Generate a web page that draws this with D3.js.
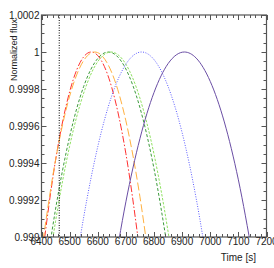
<!DOCTYPE html>
<html>
<head>
<meta charset="utf-8">
<script src="https://cdn.jsdelivr.net/npm/d3@7"></script>
<style>
  html, body { margin: 0; padding: 0; background: #fff; }
  svg text { font-family: "Liberation Sans", Arial, sans-serif; fill: #222; }
</style>
</head>
<body>
<svg id="chart" width="274" height="268"></svg>
<script>
// light curves: [time s, normalized flux]
const redCurve = [[6400, 0.998863], [6450, 0.999415], [6500, 0.999785], [6550, 0.999974], [6577, 1.0],
  [6600, 0.999981], [6650, 0.999807], [6700, 0.999451], [6750, 0.998914]];
const orangeCurve = [[6400, 0.998922], [6450, 0.999417], [6500, 0.999761], [6550, 0.999954], [6589, 1.0],
  [6650, 0.999888], [6700, 0.999628], [6750, 0.999217], [6800, 0.998656]];
const darkGreenCurve = [[6400, 0.998639], [6450, 0.999151], [6500, 0.999542], [6550, 0.999814], [6600, 0.999965],
  [6638, 1.0], [6700, 0.999908], [6750, 0.999699], [6800, 0.999369], [6850, 0.99892]];
const lightGreenCurve = [[6400, 0.998562], [6450, 0.999085], [6500, 0.999491], [6550, 0.999778], [6600, 0.999948],
  [6647, 1.0], [6700, 0.999934], [6750, 0.99975], [6800, 0.999448], [6850, 0.999029], [6900, 0.998492]];
const blueCurve = [[6500, 0.998621], [6550, 0.999107], [6600, 0.999488], [6650, 0.999764], [6700, 0.999934],
  [6756, 1.0], [6800, 0.999959], [6850, 0.999814], [6900, 0.999564], [6950, 0.999208], [7000, 0.998747]];
const purpleCurve = [[6650, 0.998753], [6700, 0.99919], [6750, 0.999532], [6800, 0.999781], [6850, 0.999937],
  [6908, 1.0], [6950, 0.999967], [7000, 0.999841], [7050, 0.999622], [7100, 0.999309], [7150, 0.998902]];
const markerTime = 6463;

const xTicks = [6400, 6500, 6600, 6700, 6800, 6900, 7000, 7100, 7200];
const yTicks = [0.999, 0.9992, 0.9994, 0.9996, 0.9998, 1.0, 1.0002];
const yTickLabels = ['0.999', '0.9992', '0.9994', '0.9996', '0.9998', '1', '1.0002'];

const series = [
  { data: redCurve, color: '#ff3030', dash: '7,2,1.5,2' },
  { data: orangeCurve, color: '#ffb040', dash: '8,3' },
  { data: darkGreenCurve, color: '#3c9a3c', dash: '3,2' },
  { data: lightGreenCurve, color: '#8ee060', dash: '2.5,1.5' },
  { data: blueCurve, color: '#5c5cff', dash: '1,1.5' },
  { data: purpleCurve, color: '#6a4ea4', dash: null }
];

const svg = d3.select('#chart');
const m = { left: 41.5, right: 266.5, top: 15, bottom: 237 };

const x = d3.scaleLinear().domain([6400, 7200]).range([m.left, m.right]);
const y = d3.scaleLinear().domain([0.999, 1.0002]).range([m.bottom, m.top]);

svg.append('clipPath').attr('id', 'plot-clip')
  .append('rect')
  .attr('x', m.left).attr('y', m.top)
  .attr('width', m.right - m.left).attr('height', m.bottom - m.top);

const plot = svg.append('g').attr('clip-path', 'url(#plot-clip)');

const line = d3.line()
  .x(d => x(d[0]))
  .y(d => y(d[1]))
  .curve(d3.curveMonotoneX);

plot.selectAll('.curve')
  .data(series)
  .enter().append('path')
  .attr('class', 'curve')
  .attr('d', d => line(d.data))
  .attr('fill', 'none')
  .attr('stroke', d => d.color)
  .attr('stroke-width', 1)
  .attr('stroke-dasharray', d => d.dash);

// vertical dotted marker
plot.append('line')
  .attr('x1', x(markerTime)).attr('x2', x(markerTime))
  .attr('y1', m.top).attr('y2', m.bottom)
  .attr('stroke', '#000')
  .attr('stroke-width', 1)
  .attr('stroke-dasharray', '1,1.5');

// ticks on all four sides, pointing inward
const axisColor = '#555';
const xMinor = d3.range(6400, 7201, 20).filter(v => v % 100 !== 0);
const yMinor = d3.range(0, 25).map(i => 0.999 + i * 0.00005).filter(v => !yTicks.some(t => Math.abs(t - v) < 1e-9));

const ticks = svg.append('g').attr('stroke', axisColor).attr('stroke-width', 1);

function xTickMarks(vals, len) {
  vals.forEach(v => {
    const px = Math.round(x(v)) + 0.5;
    ticks.append('line').attr('x1', px).attr('x2', px).attr('y1', m.bottom).attr('y2', m.bottom - len);
    ticks.append('line').attr('x1', px).attr('x2', px).attr('y1', m.top).attr('y2', m.top + len);
  });
}
function yTickMarks(vals, len) {
  vals.forEach(v => {
    const py = Math.round(y(v)) + 0.5;
    ticks.append('line').attr('x1', m.left).attr('x2', m.left + len).attr('y1', py).attr('y2', py);
    ticks.append('line').attr('x1', m.right).attr('x2', m.right - len).attr('y1', py).attr('y2', py);
  });
}
xTickMarks(xTicks, 5);
xTickMarks(xMinor, 3);
yTickMarks(yTicks, 5);
yTickMarks(yMinor, 3);

svg.append('rect')
  .attr('x', m.left).attr('y', m.top)
  .attr('width', m.right - m.left).attr('height', m.bottom - m.top)
  .attr('fill', 'none')
  .attr('stroke', axisColor)
  .attr('stroke-width', 1.2);

// tick labels
svg.append('g').selectAll('text')
  .data(xTicks)
  .enter().append('text')
  .attr('x', d => x(d))
  .attr('y', m.bottom + 8)
  .attr('text-anchor', 'middle')
  .attr('font-size', 10)
  .text(d => d);

svg.append('g').selectAll('text')
  .data(yTicks)
  .enter().append('text')
  .attr('x', m.left - 2)
  .attr('y', d => y(d) + 3.5)
  .attr('text-anchor', 'end')
  .attr('font-size', 10)
  .text((d, i) => yTickLabels[i]);

// axis titles
svg.append('text')
  .attr('transform', 'translate(17,19) rotate(-90)')
  .attr('text-anchor', 'end')
  .attr('font-size', 9)
  .text('Normalized flux');

svg.append('text')
  .attr('x', 256)
  .attr('y', 261)
  .attr('text-anchor', 'end')
  .attr('font-size', 10)
  .text('Time [s]');
</script>
</body>
</html>
